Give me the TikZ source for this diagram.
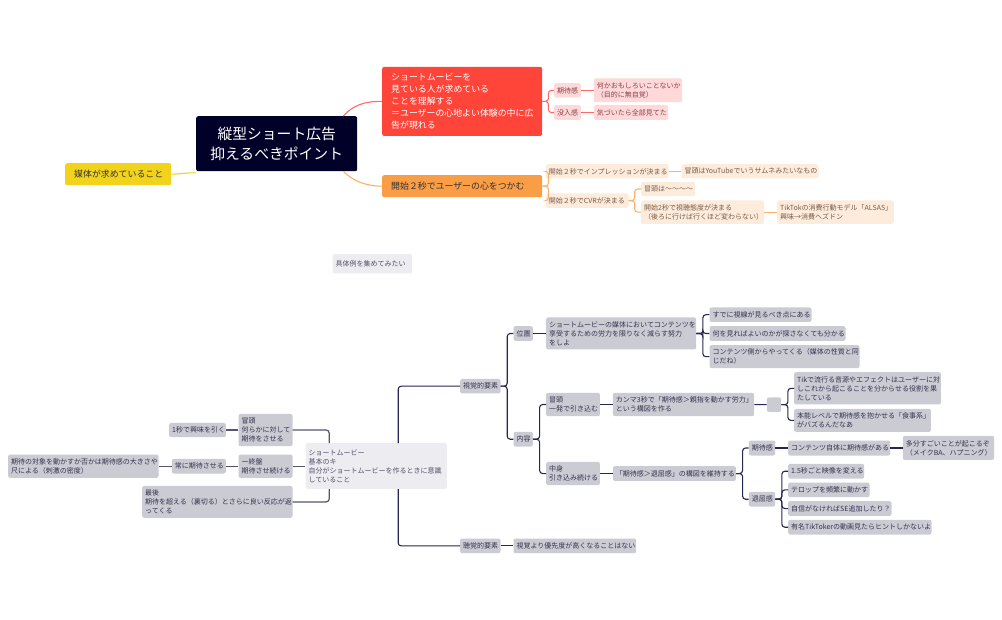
\documentclass[tikz,border=0pt]{standalone}
\usepackage{fontspec}
\setmainfont{Noto Sans CJK JP}
\usetikzlibrary{positioning}
\definecolor{rootbg}{HTML}{000028}
\definecolor{redbg}{HTML}{FF453A}
\definecolor{redlt}{HTML}{FFD9D9}
\definecolor{redtx}{HTML}{8A3F44}
\definecolor{redln}{HTML}{FF6B64}
\definecolor{orgbg}{HTML}{F99D46}
\definecolor{orglt}{HTML}{FDEBDC}
\definecolor{orgtx}{HTML}{7A5C44}
\definecolor{orgln}{HTML}{FBB06A}
\definecolor{yelbg}{HTML}{F2D31B}
\definecolor{gryinfo}{HTML}{CBCBD4}
\definecolor{grypale}{HTML}{EDECF0}
\definecolor{grytx}{HTML}{33334D}
\definecolor{navyln}{HTML}{26264E}
\definecolor{slateln}{HTML}{55556F}
\tikzset{
  box/.style n args={2}{anchor=north west,rounded corners=2pt,inner xsep=3pt,inner ysep=0pt,
    align=left,text width=#1pt-6pt,minimum height=#2pt,font=\fontsize{7}{9}\selectfont},
  greybox/.style 2 args={box={#1}{#2},fill=gryinfo,text=grytx},
  palebox/.style 2 args={box={#1}{#2},fill=grypale,text=grytx!85},
  redbox/.style 2 args={box={#1}{#2},fill=redlt,text=redtx},
  orgbox/.style 2 args={box={#1}{#2},fill=orglt,text=orgtx},
  mainbox/.style n args={3}{box={#1}{#2},fill=#3,inner xsep=9pt,text width=#1pt-18pt,
    font=\fontsize{8.9}{12}\selectfont},
  navyline/.style={draw=navyln,line width=1.1pt,rounded corners=3pt},
  slateline/.style={draw=slateln,line width=1.2pt,rounded corners=3pt},
  redline/.style={draw=redln,line width=1.1pt,rounded corners=3pt},
  orgline/.style={draw=orgln,line width=1.1pt,rounded corners=3pt}
}
\begin{document}
\begin{tikzpicture}[x=1pt,y=-1pt]
\useasboundingbox (0,0) rectangle (1002,620);
% upper map
\node [anchor=north west,fill=rootbg,text=white,rounded corners=2pt,align=center,inner sep=0pt,
  minimum width=161pt,minimum height=55pt,font=\fontsize{14.8}{20}\selectfont] (root) at (196,116)
  {縦型ショート広告\\抑えるべきポイント};
\node [mainbox={160}{69}{redbg},text=white] (movie) at (382,66.7)
  {ショートムービーを\\見ている人が求めている\\ことを理解する\\＝ユーザーの心地よい体験の中に広\\告が現れる};
\node [mainbox={160}{22}{orgbg},text=black!80] (grab) at (382,175) {開始２秒でユーザーの心をつかむ};
\node [mainbox={106}{22}{yelbg},text=black!80] (media) at (65,163) {媒体が求めていること};
\draw [redline,rounded corners=0pt] ([xshift=-14pt]root.north east) .. controls (352,106) and (364,101) .. (movie.west);
\draw [orgline,rounded corners=0pt] ([xshift=-14pt]root.south east) .. controls (352,180) and (364,186) .. (grab.west);
\draw [draw=yelbg,line width=1.1pt] (media.east) .. controls (180,174) and (188,172.5) .. ([yshift=-1.5pt]root.south west);
% red side
\node [redbox={26.7}{14.3}] (expect) at (554,83) {期待感};
\node [redbox={88.3}{23.7}] (funny) at (593.7,78.3) {何かおもしろいことないか\\（目的に無自覚）};
\node [redbox={26.7}{14.7}] (immerse) at (554,105) {没入感};
\node [redbox={74.3}{14.7}] (noticed) at (593.7,105) {気づいたら全部見てた};
\draw [redline] (movie.east) -- ++(6,0) |- (expect.west);
\draw [redline] (movie.east) -- ++(6,0) |- (immerse.west);
\draw [redline] (expect.east) -- (expect.east -| funny.west);
\draw [redline] (immerse.east) -- (noticed.west);
% orange side
\node [orgbox={122.6}{14.3}] (impr) at (545.7,164) {開始２秒でインプレッションが決まる};
\node [orgbox={137}{14.3}] (thumb) at (681.3,164) {冒頭はYouTubeでいうサムネみたいなもの};
\node [orgbox={82.6}{14.4}] (cvr) at (545.7,193.3) {開始２秒でCVRが決まる};
\node [orgbox={54}{14.3}] (opening) at (641,181.7) {冒頭は～～～～};
\node [orgbox={123}{23.4}] (watch) at (641,200.3) {開始2秒で視聴態度が決まる\\（後ろに行けば行くほど変わらない）};
\node [orgbox={116.7}{23.4}] (alsas) at (777,200.3) {TikTokの消費行動モデル「ALSAS」\\興味→消費へズドン};
\draw [orgline] (grab.east) -- ++(6,0) |- (impr.west);
\draw [orgline] (grab.east) -- ++(6,0) |- (cvr.west);
\draw [orgline] (impr.east) -- (thumb.west);
\draw [orgline] (cvr.east) -- ++(6,0) |- (opening.west);
\draw [orgline] (cvr.east) -- ++(6,0) |- (watch.west);
\draw [orgline] (watch.east) -- (alsas.west);
% floating note
\node [palebox={79.7}{19.3}] (sample) at (332.3,254) {具体例を集めてみたい};
% lower map
\node [palebox={141.4}{45.7}] (basic) at (305.3,443)
  {ショートムービー\\基本のキ\\自分がショートムービーを作るときに意識\\していること};
\node [greybox={54}{32.3}] (head) at (238.3,413.7) {冒頭\\何らかに対して\\期待をさせる};
\node [greybox={56.7}{14.3}] (onesec) at (169,422.7) {1秒で興味を引く};
\node [greybox={54}{23.4}] (late) at (238.3,454.3) {ー終盤\\期待させ続ける};
\node [greybox={54}{14.6}] (always) at (171.7,458.7) {常に期待させる};
\node [greybox={150.3}{23.4}] (scale) at (8,454.3) {期待の対象を動かすか否かは期待感の大きさや\\尺による（刺激の密度）};
\node [greybox={150.3}{32}] (last) at (142,485.7) {最後\\期待を超える（裏切る）とさらに良い反応が返\\ってくる};
\draw [slateline] (head.east) -| ([xshift=-47pt]basic.north);
\draw [slateline] (late.east) -- (late.east -| basic.west);
\draw [slateline] (last.east) -| ([xshift=-47pt]basic.south);
\draw [slateline] (head.west) -- (head.west -| onesec.east);
\draw [slateline] (late.west) -- (late.west -| always.east);
\draw [slateline] (always.west) -- (always.west -| scale.east);
\node [greybox={40.3}{14.6}] (visual) at (460,378.7) {視覚的要素};
\node [greybox={40.3}{14.7}] (audio) at (460,538.3) {聴覚的要素};
\node [greybox={122.7}{14.7}] (prior) at (513.3,538.3) {視覚より優先度が高くなることはない};
\draw [navyline] ([xshift=22pt]basic.north) |- (visual.west);
\draw [navyline] ([xshift=22pt]basic.south) |- (audio.west);
\draw [navyline] (audio.east) -- (prior.west);
\node [greybox={19.4}{14.7}] (place) at (513.3,326) {位置};
\node [greybox={19.4}{14.6}] (content) at (513.3,431.7) {内容};
\draw [navyline] (visual.east) -- ++(6.5,0) |- (place.west);
\draw [navyline] (visual.east) -- ++(6.5,0) |- (content.west);
\node [greybox={150}{32}] (effort) at (546,317.3)
  {ショートムービーの媒体においてコンテンツを\\享受するための労力を限りなく減らす努力\\をしよ};
\node [greybox={102}{14.4}] (gaze) at (709.3,307.3) {すでに視線が見るべき点にある};
\node [greybox={136}{14.7}] (where) at (709.3,326) {何を見ればよいのかが探さなくても分かる};
\node [greybox={150}{23}] (comes) at (709.3,345) {コンテンツ側からやってくる（媒体の性質と同\\じだね）};
\draw [navyline] (place.east) -- (effort.west |- place.east);
\draw [navyline] (effort.east) -- ++(6.5,0) |- (gaze.west);
\draw [navyline] (effort.east) -- ++(6.5,0) |- (where.west);
\draw [navyline] (effort.east) -- ++(6.5,0) |- (comes.west);
\node [greybox={53.7}{23.3}] (hook) at (546,392.7) {冒頭\\一発で引き込む};
\node [greybox={141.3}{23.3}] (comma) at (612.7,392.7) {カンマ3秒で「期待感＞親指を動かす労力」\\という構図を作る};
\node [greybox={14.3}{14.4}] (blank) at (766.7,397.3) {};
\node [greybox={146.7}{32.3}] (sound) at (794,372) {Tikで流行る音源やエフェクトはユーザーに対\\しこれから起こることを分からせる役割を果\\たしている};
\node [greybox={136.7}{23}] (instinct) at (794,408.7) {本能レベルで期待感を抱かせる「食事系」\\がバズるんだなあ};
\draw [navyline] (content.east) -- ++(6.5,0) |- (hook.west);
\draw [navyline] (hook.east) -- (comma.west);
\draw [navyline] (comma.east) -- (blank.west);
\draw [navyline] (blank.east) -- ++(6.5,0) |- (sound.west);
\draw [navyline] (blank.east) -- ++(6.5,0) |- (instinct.west);
\node [greybox={53.7}{23.3}] (middle) at (546,461.7) {中身\\引き込み続ける};
\node [greybox={123}{14.7}] (ratio) at (612.7,466) {「期待感＞退屈感」の構図を維持する};
\node [greybox={26.3}{15}] (hope) at (748.7,440.3) {期待感};
\node [greybox={26.3}{14.6}] (bored) at (748.7,491.7) {退屈感};
\node [greybox={102}{15}] (itself) at (788,440.3) {コンテンツ自体に期待感がある};
\node [greybox={91.3}{24}] (happen) at (902.7,435.7) {多分すごいことが起こるぞ\\（メイクBA、ハプニング）};
\node [greybox={76}{14.6}] (cuts) at (788,463.7) {1.5秒ごと映像を変える};
\node [greybox={81.3}{14.7}] (telop) at (788,482.3) {テロップを頻繁に動かす};
\node [greybox={103.3}{14.7}] (sefx) at (788,501) {自信がなければSE追加したり？};
\node [greybox={143.3}{14.6}] (famous) at (788,519.7) {有名TikTokerの動画見たらヒントしかないよ};
\draw [navyline] (content.east) -- ++(6.5,0) |- (middle.west);
\draw [navyline] (middle.east) -- (ratio.west);
\draw [navyline] (ratio.east) -- ++(6.5,0) |- (hope.west);
\draw [navyline] (ratio.east) -- ++(6.5,0) |- (bored.west);
\draw [navyline] (hope.east) -- (itself.west);
\draw [navyline] (itself.east) -- (itself.east -| happen.west);
\draw [navyline] (bored.east) -- ++(6.5,0) |- (cuts.west);
\draw [navyline] (bored.east) -- ++(6.5,0) |- (telop.west);
\draw [navyline] (bored.east) -- ++(6.5,0) |- (sefx.west);
\draw [navyline] (bored.east) -- ++(6.5,0) |- (famous.west);
\end{tikzpicture}
\end{document}
